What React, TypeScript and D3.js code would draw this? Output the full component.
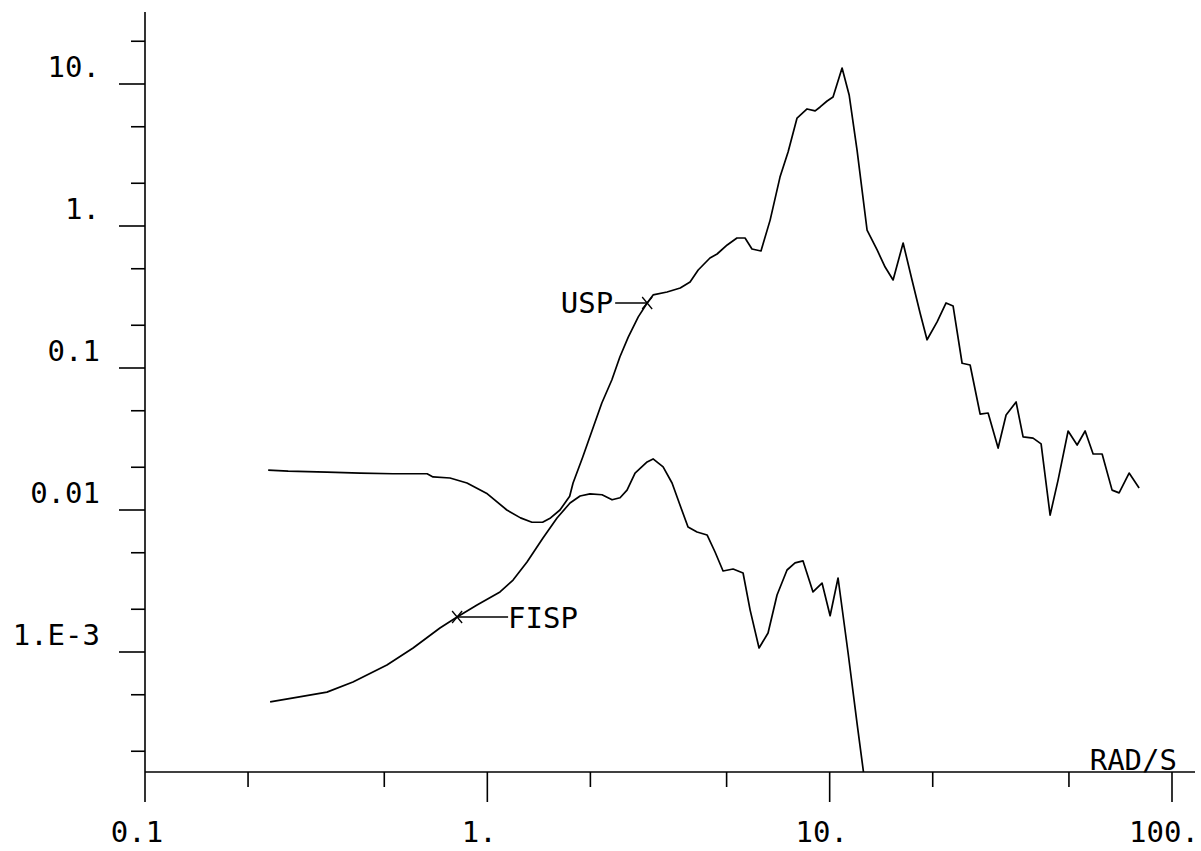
import React from 'react';
import * as d3 from 'd3';

// Axis ticks and labels
const xMajorTicks = [0.1, 1, 10, 100];
const xMajorLabels = ['0.1', '1.', '10.', '100.'];
const xMinorTicks = [0.2, 0.5, 2, 5, 20, 50];
const yMajorTicks = [1e-3, 0.01, 0.1, 1, 10];
const yMajorLabels = ['1.E-3', '0.01', '0.1', '1.', '10.'];
const yMinorTicks = [2e-4, 5e-4, 2e-3, 5e-3, 0.02, 0.05, 0.2, 0.5, 2, 5, 20];
const xUnit = 'RAD/S';

// Spectra: [frequency (rad/s), amplitude]
const usp: [number, number][] = [
  [0.229, 0.0191], [0.262, 0.0188], [0.34, 0.0185], [0.425, 0.0182], [0.53, 0.018],
  [0.667, 0.018], [0.694, 0.0171], [0.778, 0.0168], [0.872, 0.0155], [1.0, 0.013],
  [1.14, 0.01], [1.25, 0.0088], [1.35, 0.0082], [1.45, 0.0082], [1.53, 0.0088],
  [1.63, 0.01], [1.74, 0.0125], [1.78, 0.0155], [1.9, 0.0236], [2.04, 0.0384],
  [2.16, 0.0567], [2.31, 0.0823], [2.44, 0.12], [2.58, 0.165], [2.76, 0.229],
  [2.93, 0.287], [3.05, 0.327], [3.35, 0.343], [3.66, 0.366], [3.91, 0.403],
  [4.13, 0.49], [4.47, 0.595], [4.69, 0.635], [5.02, 0.735], [5.36, 0.823],
  [5.66, 0.823], [5.93, 0.689], [6.3, 0.667], [6.7, 1.1], [7.16, 2.21],
  [7.56, 3.32], [8.03, 5.76], [8.59, 6.67], [9.07, 6.46], [9.38, 6.89],
  [9.83, 7.59], [10.23, 8.1], [10.87, 12.96], [11.4, 8.37], [12.02, 3.43],
  [12.86, 0.937], [13.76, 0.678], [14.52, 0.514], [15.32, 0.417], [16.39, 0.759],
  [17.4, 0.417], [18.37, 0.244], [19.25, 0.158], [20.6, 0.211], [21.88, 0.287],
  [22.94, 0.273], [24.37, 0.108], [25.72, 0.105], [27.51, 0.0474], [29.03, 0.0482],
  [31.05, 0.0273], [32.76, 0.0467], [35.04, 0.0576], [36.73, 0.0327], [39.28, 0.0321],
  [41.46, 0.0292], [44.05, 0.0092], [46.49, 0.0163], [49.72, 0.036], [52.83, 0.0287],
  [55.75, 0.036], [58.83, 0.0248], [62.5, 0.0248], [66.83, 0.0138], [70.06, 0.0132],
  [74.94, 0.0182], [80.15, 0.0143],
];

const fisp: [number, number][] = [
  [0.232, 4.45e-4], [0.269, 4.74e-4], [0.34, 5.22e-4], [0.405, 6.15e-4], [0.509, 8.09e-4],
  [0.607, 1.067e-3], [0.727, 1.475e-3], [0.816, 1.764e-3], [0.933, 2.14e-3], [1.089, 2.65e-3],
  [1.189, 3.21e-3], [1.306, 4.31e-3], [1.454, 6.35e-3], [1.598, 8.79e-3], [1.744, 0.0112],
  [1.866, 0.01255], [1.995, 0.013], [2.163, 0.0128], [2.314, 0.0118], [2.442, 0.0122],
  [2.559, 0.0138], [2.701, 0.0182], [2.929, 0.0218], [3.049, 0.0229], [3.262, 0.0201],
  [3.464, 0.0155], [3.656, 0.0108], [3.857, 7.59e-3], [4.098, 7.0e-3], [4.384, 6.67e-3],
  [4.626, 5.06e-3], [4.882, 3.72e-3], [5.222, 3.84e-3], [5.585, 3.6e-3], [5.855, 1.98e-3],
  [6.219, 1.067e-3], [6.607, 1.36e-3], [7.019, 2.52e-3], [7.507, 3.78e-3], [7.923, 4.24e-3],
  [8.36, 4.38e-3], [8.94, 2.65e-3], [9.5, 3.06e-3], [10.03, 1.8e-3], [10.58, 3.32e-3],
  [11.32, 9.84e-4], [12.02, 3.16e-4], [12.8, 1.0e-4],
];

// Curve labels, each tied to a point of its curve
const uspLabel = { text: 'USP', at: usp[25] };
const fispLabel = { text: 'FISP', at: fisp[7] };

const FONT = "'DejaVu Sans Mono', 'Liberation Mono', monospace";

function Cross({ cx, cy }: { cx: number; cy: number }) {
  return (
    <g stroke="#000" strokeWidth={1.3}>
      <line x1={cx - 5} y1={cy - 6} x2={cx + 5} y2={cy + 6} />
      <line x1={cx - 5} y1={cy + 6} x2={cx + 5} y2={cy - 6} />
    </g>
  );
}

export default function App() {
  const W = 1201;
  const H = 851;
  const x = d3.scaleLog().domain([0.1, 100]).range([145, 1172]);
  const y = d3.scaleLog().domain([1e-3, 10]).range([652, 84]);
  const axisY = 772;
  const axisTop = 12;
  const axisRight = 1195;
  const x0 = x(0.1);

  const line = d3
    .line<[number, number]>()
    .x((d) => x(d[0]))
    .y((d) => y(d[1]));

  const uspPt = { x: x(uspLabel.at[0]), y: y(uspLabel.at[1]) };
  const fispPt = { x: x(fispLabel.at[0]), y: y(fispLabel.at[1]) };

  return (
    <svg
      width={W}
      height={H}
      viewBox={`0 0 ${W} ${H}`}
      style={{ position: 'absolute', left: 0, top: 0, background: '#fff' }}
    >
      <defs>
        <clipPath id="plotArea">
          <rect x={x0} y={0} width={W - x0} height={axisY} />
        </clipPath>
      </defs>
      <rect x={0} y={0} width={W} height={H} fill="#fff" />

      {/* axes */}
      <g stroke="#000" strokeWidth={1.6} fill="none">
        <line x1={x0} y1={axisTop} x2={x0} y2={axisY} />
        <line x1={x0} y1={axisY} x2={axisRight} y2={axisY} />
        {yMajorTicks.map((v) => (
          <line key={'ym' + v} x1={x0 - 26} y1={y(v)} x2={x0} y2={y(v)} />
        ))}
        {yMinorTicks.map((v) => (
          <line key={'yn' + v} x1={x0 - 14} y1={y(v)} x2={x0} y2={y(v)} />
        ))}
        {xMajorTicks.map((v) => (
          <line key={'xm' + v} x1={x(v)} y1={axisY} x2={x(v)} y2={axisY + 30} />
        ))}
        {xMinorTicks.map((v) => (
          <line key={'xn' + v} x1={x(v)} y1={axisY} x2={x(v)} y2={axisY + 15} />
        ))}
      </g>

      {/* tick labels */}
      <g fontFamily={FONT} fontSize={29} fill="#000">
        {yMajorTicks.map((v, i) => (
          <text key={'yl' + v} x={100} y={y(v) - 7} textAnchor="end">
            {yMajorLabels[i]}
          </text>
        ))}
        {xMajorTicks.map((v, i) => (
          <text key={'xl' + v} x={x(v) - 8} y={842} textAnchor="middle">
            {xMajorLabels[i]}
          </text>
        ))}
        <text x={1177} y={770} textAnchor="end">
          {xUnit}
        </text>
      </g>

      {/* curves */}
      <g clipPath="url(#plotArea)" fill="none" stroke="#000" strokeWidth={1.7} strokeLinejoin="round">
        <path d={line(usp) ?? ''} />
        <path d={line(fisp) ?? ''} />
      </g>

      {/* curve labels */}
      <g fontFamily={FONT} fontSize={29} fill="#000">
        <line x1={uspPt.x - 32} y1={uspPt.y} x2={uspPt.x} y2={uspPt.y} stroke="#000" strokeWidth={1.3} />
        <Cross cx={uspPt.x} cy={uspPt.y} />
        <text x={uspPt.x - 34} y={uspPt.y + 10} textAnchor="end">
          {uspLabel.text}
        </text>
        <line x1={fispPt.x} y1={fispPt.y} x2={fispPt.x + 51} y2={fispPt.y} stroke="#000" strokeWidth={1.3} />
        <Cross cx={fispPt.x} cy={fispPt.y} />
        <text x={fispPt.x + 51} y={fispPt.y + 11} textAnchor="start">
          {fispLabel.text}
        </text>
      </g>
    </svg>
  );
}
